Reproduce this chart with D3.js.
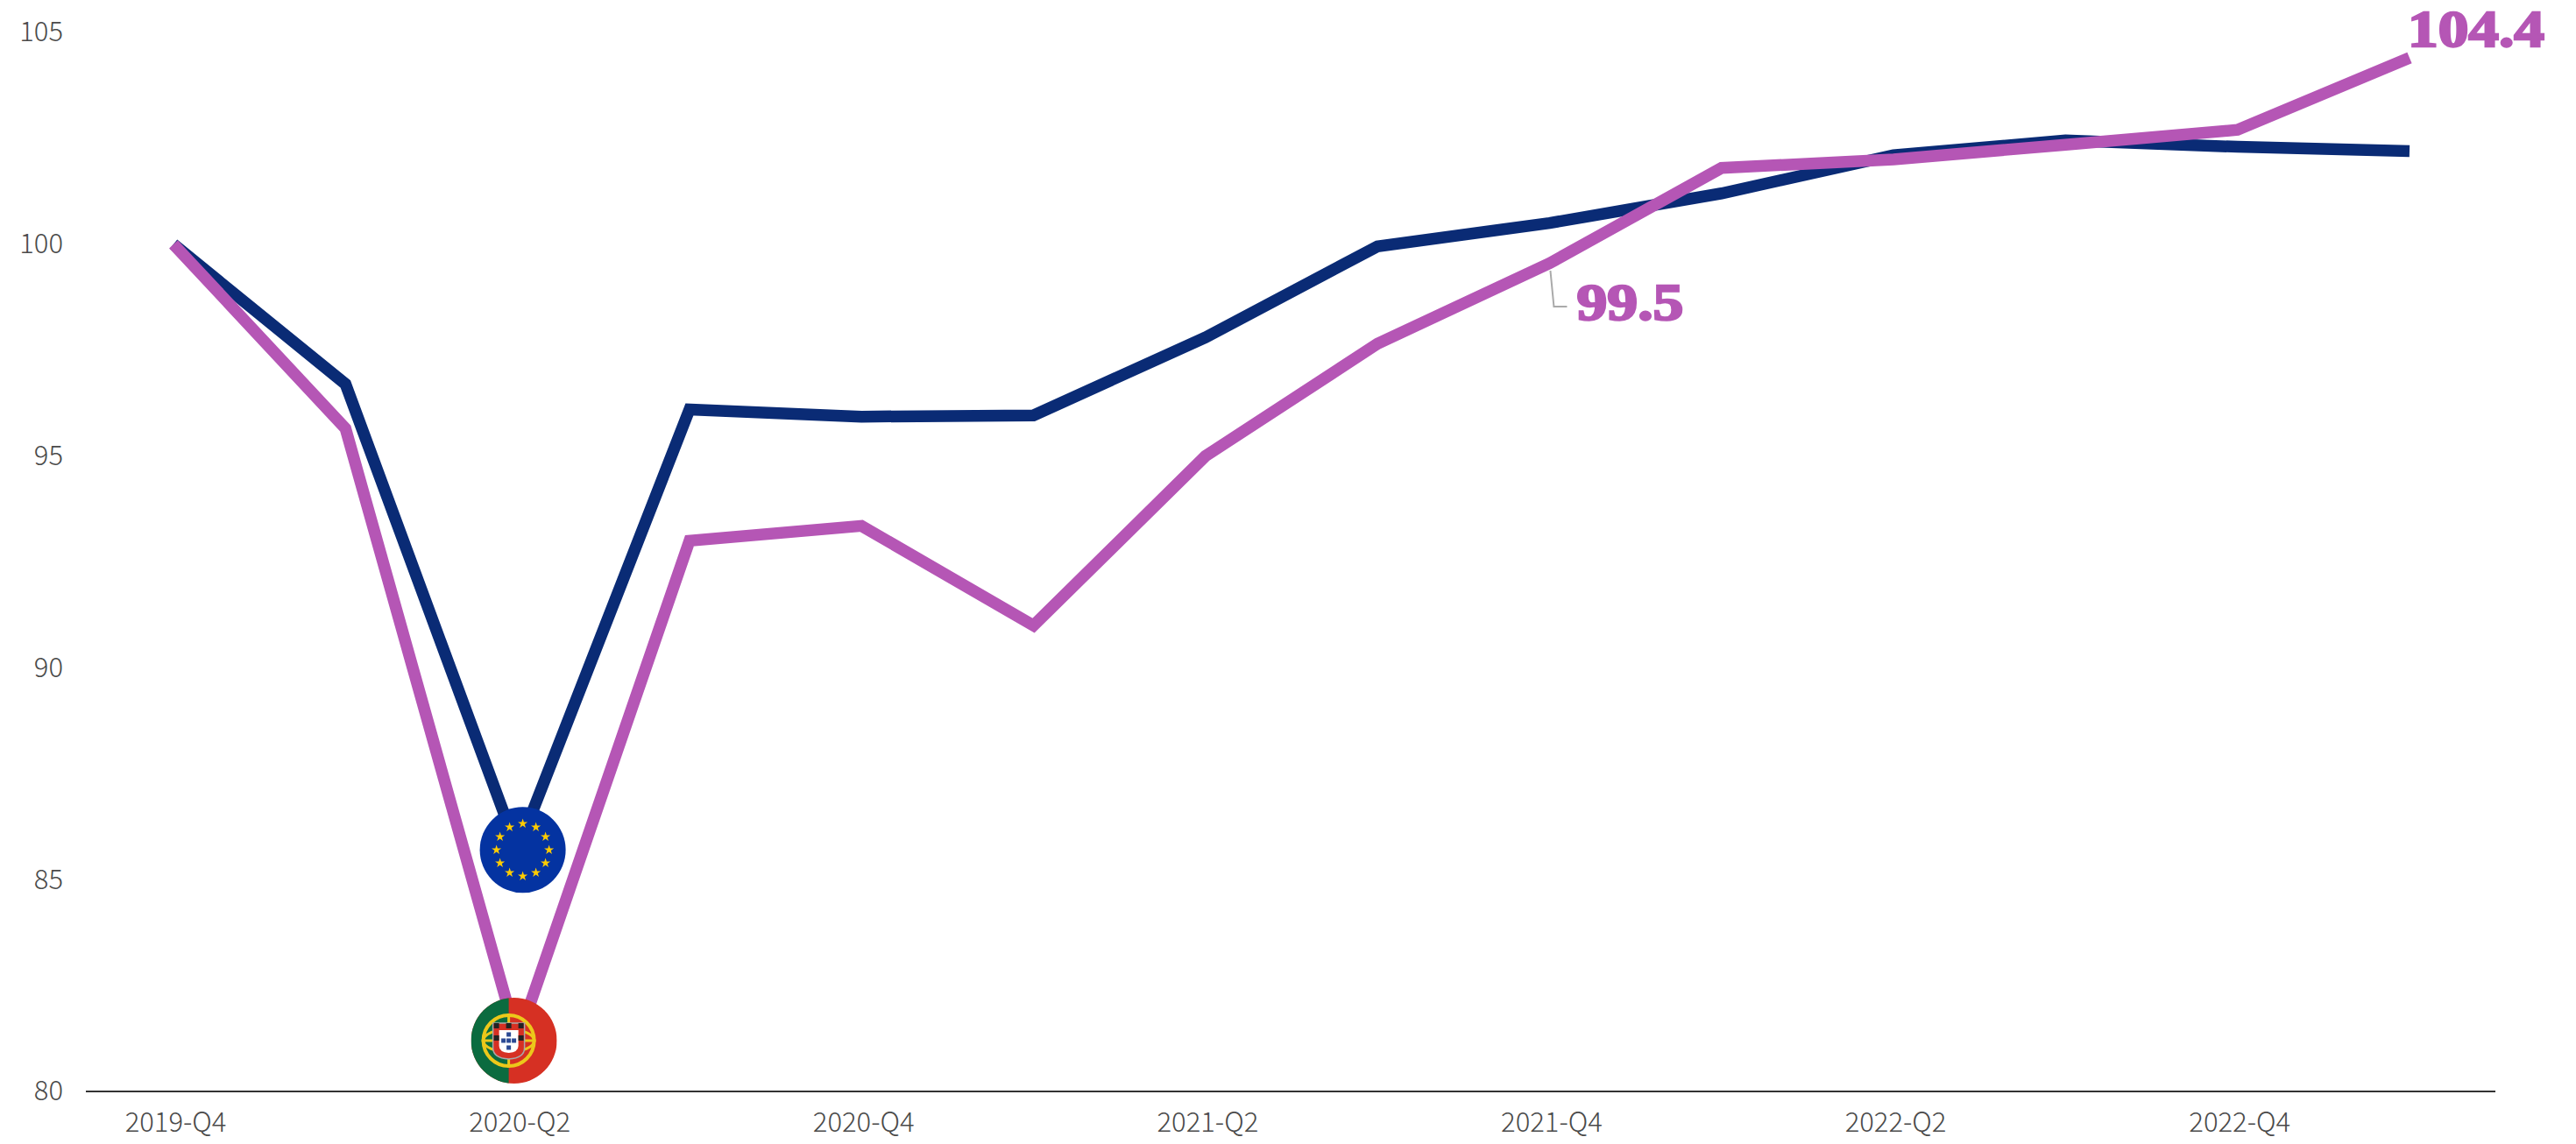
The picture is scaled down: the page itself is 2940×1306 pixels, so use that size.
<!DOCTYPE html>
<html>
<head>
<meta charset="utf-8">
<script src="https://cdn.jsdelivr.net/npm/d3@7"></script>
<style>
  html, body { margin: 0; background: #fff; }
  svg { display: block; }
  .axis text { font-family: "Noto Sans CJK JP", "Noto Sans", sans-serif; font-weight: 300; font-size: 31px; fill: #4a4a4a; }
  .value { font-family: "Liberation Serif", serif; font-weight: 700; font-size: 60px; fill: #b556b5; stroke: #b556b5; stroke-width: 2.5px; }
</style>
</head>
<body>
<svg id="chart" width="2940" height="1306"></svg>
<script>
const quarters = ['2019-Q4', '2020-Q1', '2020-Q2', '2020-Q3', '2020-Q4', '2021-Q1', '2021-Q2',
  '2021-Q3', '2021-Q4', '2022-Q1', '2022-Q2', '2022-Q3', '2022-Q4', '2023-Q1'];
const euValues = [100, 96.7, 85.7, 96.1, 95.93, 95.96, 97.8, 99.95, 100.5, 101.2, 102.1, 102.45, 102.3, 102.2];
const ptValues = [100, 95.65, 81.2, 93, 93.35, 91, 95, 97.65, 99.55, 101.8, 102, 102.35, 102.7, 104.4];
const yTicks = [80, 85, 90, 95, 100, 105];
const xTicks = quarters.filter((d, i) => i % 2 === 0);
const labels = [
  { q: '2021-Q4', v: 99.5, text: '99.5', dx: 31, dy: 62, width: 122 },
  { q: '2023-Q1', v: 104.4, text: '104.4', dx: -2, dy: -13, width: 156 }
];

const NAVY = '#0a2b75';
const PURPLE = '#b556b5';
const FLAG_R = 49;

const svg = d3.select('#chart');
const x = d3.scalePoint().domain(quarters).range([198, 2750]);
const y = d3.scaleLinear().domain([80, 105]).range([1246, 37]);

// axes
svg.append('g').attr('class', 'axis')
  .attr('transform', 'translate(72,0)')
  .call(d3.axisLeft(y).tickValues(yTicks).tickSize(0).tickPadding(0))
  .call(g => g.select('.domain').remove());

svg.append('g').attr('class', 'axis')
  .attr('transform', 'translate(2,1246)')
  .call(d3.axisBottom(x).tickValues(xTicks).tickSize(0).tickPadding(24))
  .call(g => g.select('.domain').remove());

svg.append('line')
  .attr('x1', 98).attr('x2', 2848)
  .attr('y1', y(80)).attr('y2', y(80))
  .attr('stroke', '#333').attr('stroke-width', 2);

// lines
const line = d3.line().x((d, i) => x(quarters[i])).y(d => y(d));
[[euValues, NAVY], [ptValues, PURPLE]].forEach(([values, color]) => {
  svg.append('path')
    .attr('d', line(values))
    .attr('fill', 'none')
    .attr('stroke', color)
    .attr('stroke-width', 13.5)
    .attr('stroke-linejoin', 'miter');
});

// annotations
const leadX = x('2021-Q4');
const leadY = y(99.5);
svg.append('path')
  .attr('d', `M${leadX + 1},${leadY + 6} L${leadX + 5},${leadY + 47} H${leadX + 20}`)
  .attr('fill', 'none').attr('stroke', '#aaa').attr('stroke-width', 2);

svg.selectAll('.value').data(labels).join('text')
  .attr('class', 'value')
  .attr('x', d => x(d.q) + d.dx)
  .attr('y', d => y(d.v) + d.dy)
  .attr('textLength', d => d.width)
  .attr('lengthAdjust', 'spacingAndGlyphs')
  .text(d => d.text);

// flags
const defs = svg.append('defs');
defs.append('clipPath').attr('id', 'flag-clip')
  .append('circle').attr('r', FLAG_R);

const eu = svg.append('g')
  .attr('transform', `translate(${x('2020-Q2') + 6},${y(85.7)})`);
eu.append('circle').attr('r', FLAG_R).attr('fill', '#0433a1');
eu.selectAll('path').data(d3.range(12)).join('path')
  .attr('d', d3.symbol(d3.symbolStar, 38))
  .attr('fill', '#ffcc00')
  .attr('transform', d => {
    const a = d * Math.PI / 6;
    return `translate(${30 * Math.sin(a)},${-30 * Math.cos(a)})`;
  });

const pt = svg.append('g')
  .attr('transform', `translate(${x('2020-Q2') - 4},${y(81.2)})`);
const ptFlag = pt.append('g').attr('clip-path', 'url(#flag-clip)');
ptFlag.append('rect').attr('x', -FLAG_R).attr('y', -FLAG_R).attr('width', 2 * FLAG_R).attr('height', 2 * FLAG_R).attr('fill', '#d63023');
ptFlag.append('rect').attr('x', -FLAG_R).attr('y', -FLAG_R).attr('width', FLAG_R - 6).attr('height', 2 * FLAG_R).attr('fill', '#0b6b3f');

// coat of arms
const arms = pt.append('g').attr('transform', 'translate(-6,0)');
arms.append('circle').attr('r', 29).attr('fill', 'none').attr('stroke', '#ecc81a').attr('stroke-width', 4);
arms.append('ellipse').attr('rx', 29).attr('ry', 13).attr('fill', 'none').attr('stroke', '#ecc81a').attr('stroke-width', 3);
arms.append('line').attr('y1', -31).attr('y2', 31).attr('stroke', '#ecc81a').attr('stroke-width', 3);
arms.append('line').attr('x1', -31).attr('x2', 31).attr('stroke', '#ecc81a').attr('stroke-width', 3);
const shield = 'M-18,-20 H18 V8 Q18,20 0,21 Q-18,20 -18,8 Z';
arms.append('path').attr('d', shield).attr('fill', '#d63023').attr('stroke', '#a9a9a9').attr('stroke-width', 1.5);
arms.append('path').attr('d', 'M-11,-12 H11 V6 Q11,13 0,14 Q-11,13 -11,6 Z').attr('fill', '#fff');
[[0, -7], [-6, 0], [0, 0], [6, 0], [0, 8]].forEach(([dx, dy]) => {
  arms.append('rect').attr('x', dx - 2.5).attr('y', dy - 2.5).attr('width', 5).attr('height', 5).attr('fill', '#2c4a94');
});
[[-14, -17], [0, -17], [14, -17], [-14, -3], [14, -3]].forEach(([dx, dy]) => {
  arms.append('rect').attr('x', dx - 3).attr('y', dy - 3).attr('width', 6).attr('height', 6).attr('fill', '#222');
});
</script>
</body>
</html>
